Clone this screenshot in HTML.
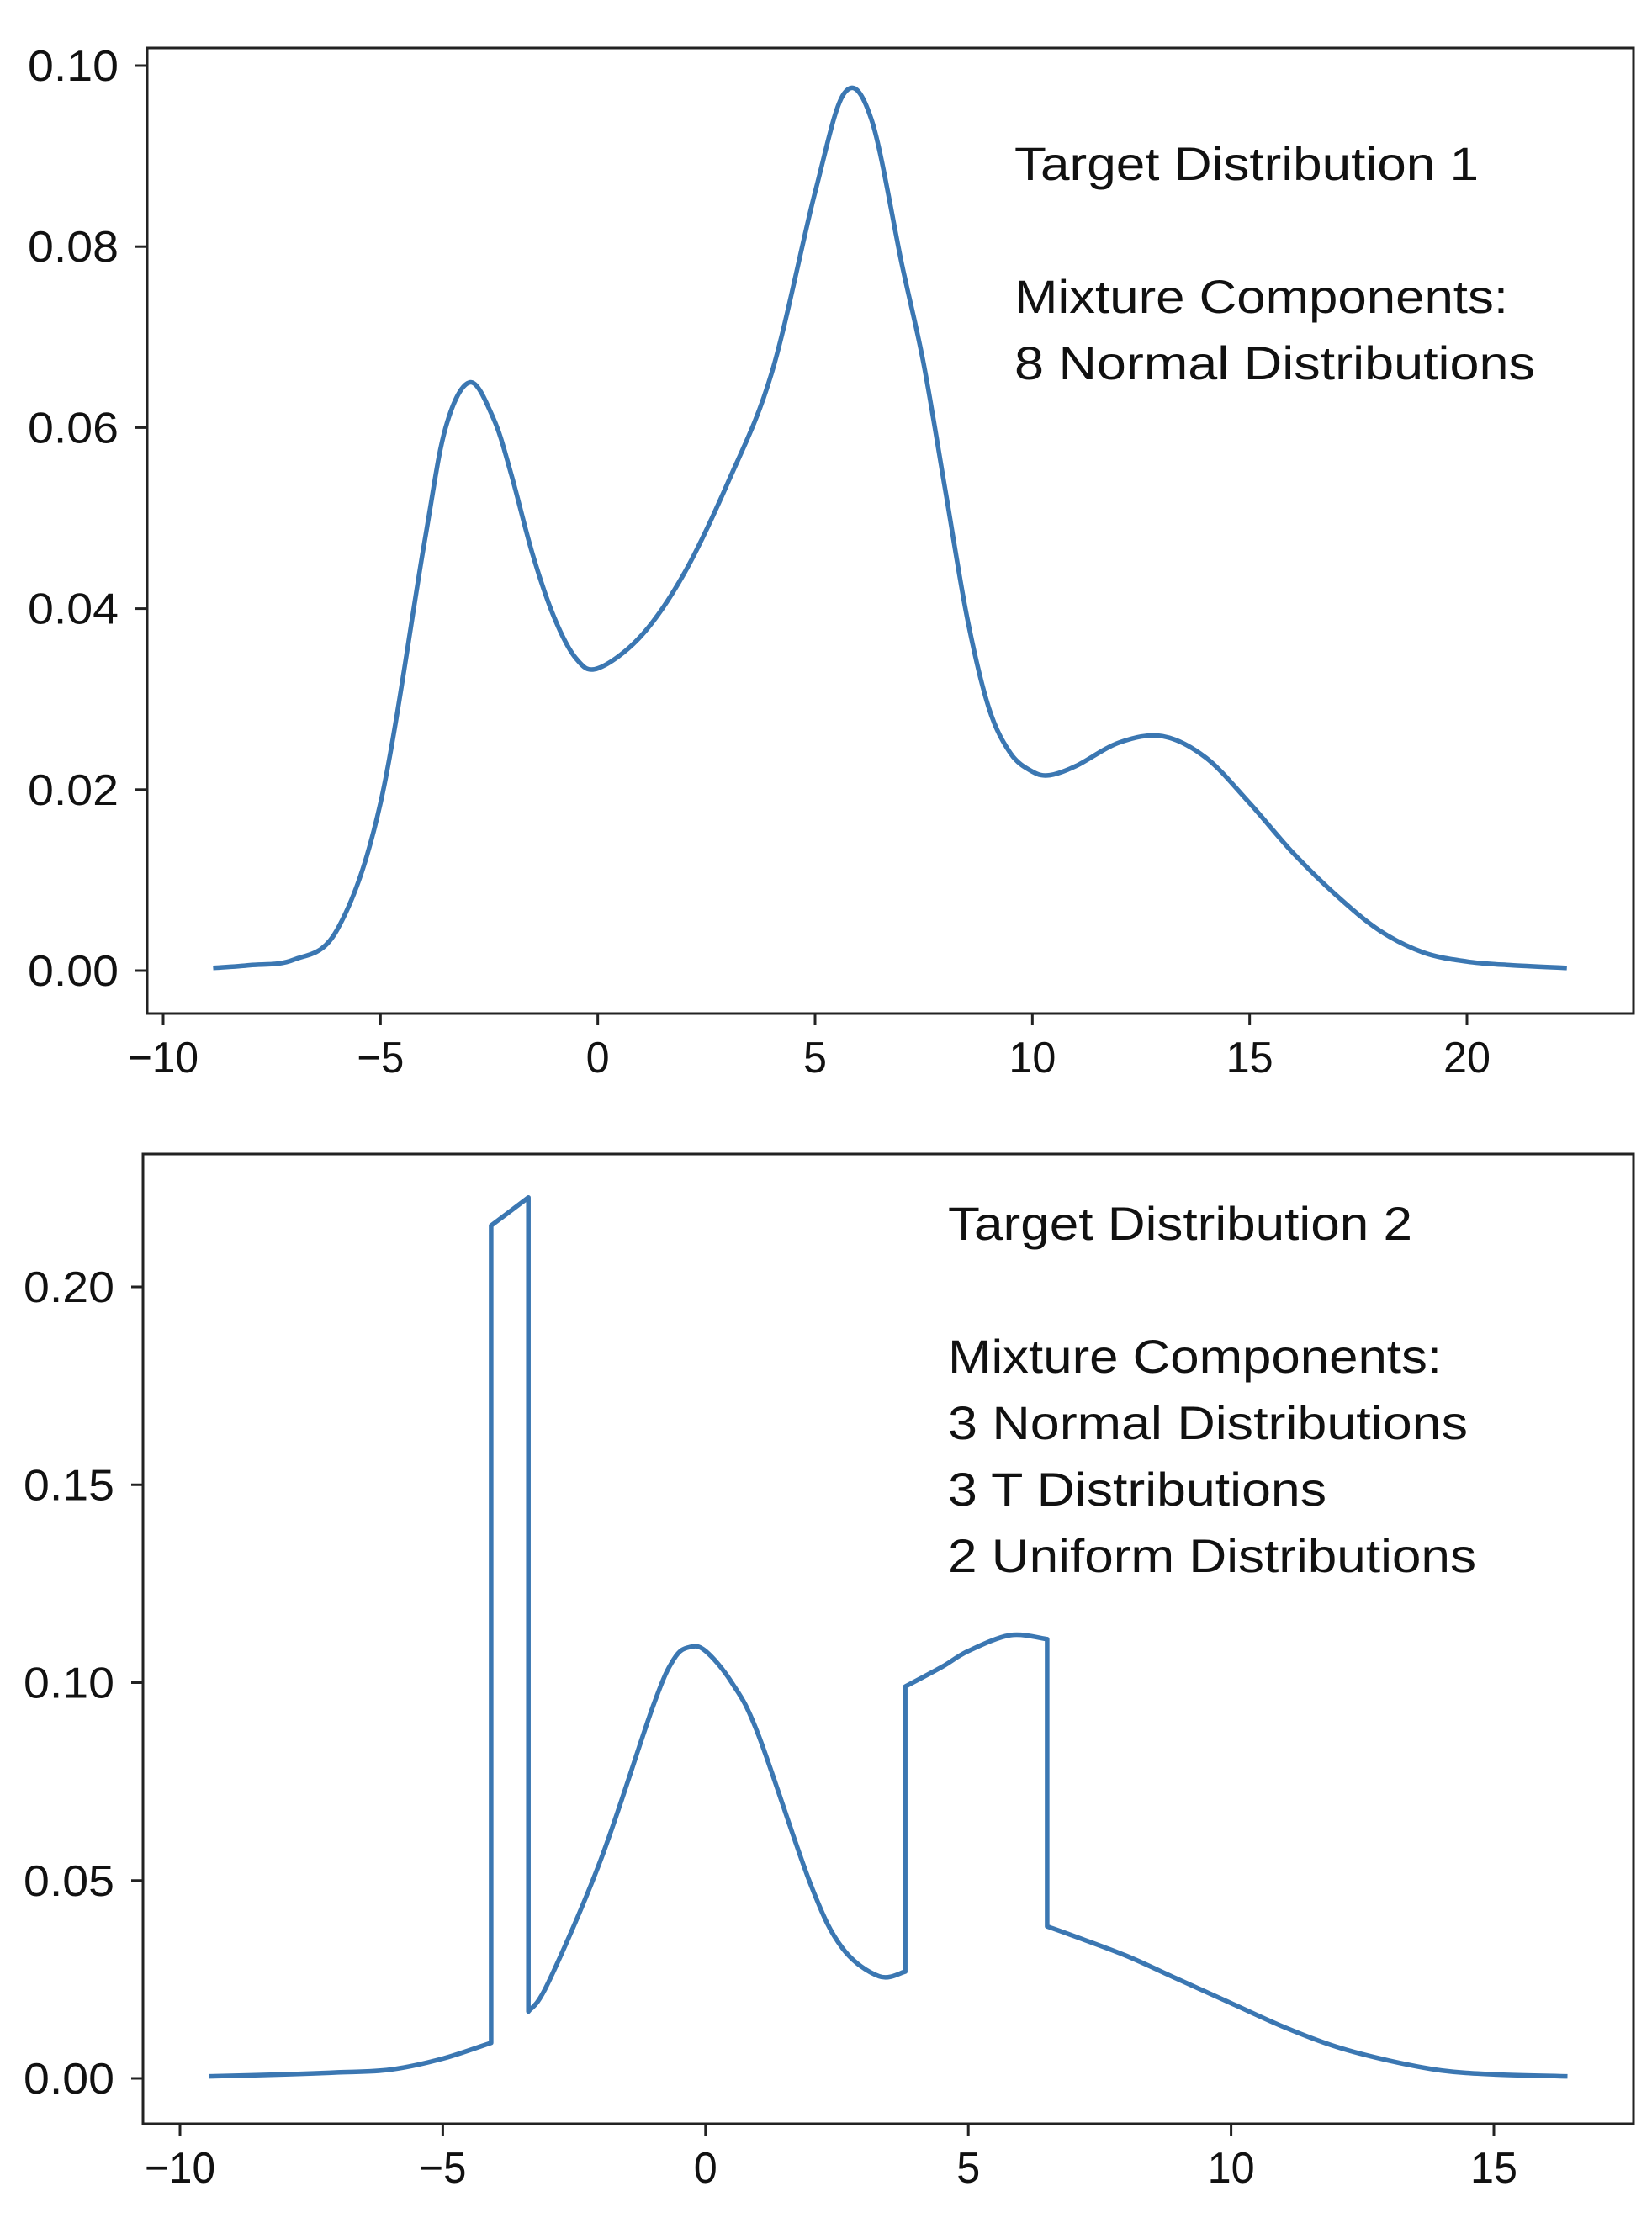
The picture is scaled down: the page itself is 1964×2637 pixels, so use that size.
<!DOCTYPE html>
<html><head><meta charset="utf-8"><style>
html,body{margin:0;padding:0;background:#fff}
svg{display:block}
text{font-family:"Liberation Sans",sans-serif;fill:#111}
</style></head><body>
<svg id="c" width="1964" height="2637" viewBox="0 0 1964 2637"></svg>
<script>
// Chart 1 data
const xs1 = [-8.85,-8,-7,-6,-5,-4,-3.5,-2.94,-2.4,-2,-1.5,-1,-0.5,0,1,2,3,4,5,5.68,6.3,7,7.5,8,8.5,9,9.5,10,10.4,11,12,13,14,15,16,17,18,19,20,21,22.3];
const ys1 = [0.0003,0.0006,0.0012,0.0045,0.0185,0.047,0.06,0.065,0.061,0.055,0.046,0.039,0.0345,0.0334,0.037,0.044,0.054,0.066,0.086,0.097,0.094,0.078,0.067,0.053,0.039,0.029,0.024,0.022,0.0216,0.0226,0.0252,0.0259,0.0235,0.0185,0.013,0.0083,0.0044,0.002,0.001,0.0006,0.0003];
const xTicks1 = [-10,-5,0,5,10,15,20];
const yTicks1 = [0,0.02,0.04,0.06,0.08,0.10];
const yLabels1 = ["0.00","0.02","0.04","0.06","0.08","0.10"];
const notes1 = ["Target Distribution 1","","Mixture Components:","8  Normal Distributions"];
// Chart 2 data
const xs2 = [-9.45,-8,-7,-6,-5,-4.08,-4.08,-3.37,-3.37,-3,-2,-1,-0.6,-0.3,0,0.5,1,2,2.6,3.3,3.8,3.8,4.5,5,5.8,6.5,6.5,7,8,9,10,11,12,13,14,15,16.4];
const ys2 = [0.0005,0.001,0.0015,0.0022,0.005,0.009,0.2155,0.2226,0.0169,0.024,0.055,0.094,0.106,0.109,0.108,0.1,0.087,0.049,0.033,0.0258,0.027,0.099,0.104,0.108,0.112,0.111,0.0384,0.036,0.031,0.025,0.019,0.013,0.008,0.0045,0.002,0.001,0.0005];
const xTicks2 = [-10,-5,0,5,10,15];
const yTicks2 = [0,0.05,0.10,0.15,0.20];
const yLabels2 = ["0.00","0.05","0.10","0.15","0.20"];
const notes2 = ["Target Distribution 2","","Mixture Components:","3  Normal Distributions","3  T Distributions","2 Uniform Distributions"];

const NS="http://www.w3.org/2000/svg";
const svg=document.getElementById('c');
function mk(tag,attrs,parent){const e=document.createElementNS(NS,tag);for(const k in attrs)e.setAttribute(k,attrs[k]);(parent||svg).appendChild(e);return e;}

function chart(cfg){
  const g=mk('g',{});
  
  
  const sx=v=>cfg.x0px+(v-cfg.x0v)*(cfg.x1px-cfg.x0px)/(cfg.x1v-cfg.x0v);
  const sy=v=>cfg.y0px+(v-cfg.y0v)*(cfg.y1px-cfg.y0px)/(cfg.y1v-cfg.y0v);
  const f=mk('rect',{x:cfg.L,y:cfg.T,width:cfg.R-cfg.L,height:cfg.B-cfg.T,fill:'none',stroke:'#222','stroke-width':3},g);
  
  
  cfg.xTicks.forEach(t=>{
    const x=sx(t);
    const tk=mk('line',{x1:x,x2:x,y1:cfg.B,y2:cfg.B+14,stroke:'#222','stroke-width':3},g);
    
    
    const s=t<0?'\u2212'+(-t):String(t);
    const tx=mk('text',{x:x,y:cfg.B+70,'font-size':52,'text-anchor':'middle',textLength:s.length*28,lengthAdjust:'spacingAndGlyphs'},g);
    tx.textContent=s;
    
    
  });
  cfg.yTicks.forEach((t,i)=>{
    const y=sy(t);
    const tk=mk('line',{x1:cfg.L-14,x2:cfg.L,y1:y,y2:y,stroke:'#222','stroke-width':3},g);
    
    
    const tx=mk('text',{x:cfg.L-34,y:y+18,'font-size':52,'text-anchor':'end',textLength:108,lengthAdjust:'spacingAndGlyphs'},g);
    tx.textContent=cfg.yLabels[i];
    
    
  });
  const pts=cfg.xs.map((x,i)=>[sx(x),sy(cfg.ys[i])]);
  const pieces=[];let cur=[pts[0]];
  for(let i=1;i<pts.length;i++){
    if(cfg.xs[i]===cfg.xs[i-1]){pieces.push(cur);cur=[pts[i]];}
    else cur.push(pts[i]);
  }
  pieces.push(cur);
  let d='';
  pieces.forEach((p,pi)=>{
    d+=(pi===0?'M':'L')+p[0][0].toFixed(1)+','+p[0][1].toFixed(1);
    for(let i=0;i<p.length-1;i++){
      const p0=p[i-1]||p[i],p1=p[i],p2=p[i+1],p3=p[i+2]||p[i+1];
      const c1=[p1[0]+(p2[0]-p0[0])/6,p1[1]+(p2[1]-p0[1])/6];
      const c2=[p2[0]-(p3[0]-p1[0])/6,p2[1]-(p3[1]-p1[1])/6];
      d+='C'+c1.map(v=>v.toFixed(1)).join(',')+' '+c2.map(v=>v.toFixed(1)).join(',')+' '+p2.map(v=>v.toFixed(1)).join(',');
    }
  });
  const ln=mk('path',{d:d,fill:'none',stroke:'#3b77b2','stroke-width':5.5,'stroke-linejoin':'round'},g);
  
  
  cfg.notes.forEach((s,i)=>{
    if(!s)return;
    const tx=mk('text',{x:cfg.nx,y:cfg.ny+i*79,'font-size':56,textLength:cfg.nw[i],lengthAdjust:'spacingAndGlyphs'},g);
    tx.textContent=s;
    
    
  });
}
chart({name:'target-distribution-1-chart',L:175,R:1942,T:57,B:1205,
  x0v:-10,x1v:20,x0px:194,x1px:1744,y0v:0,y1v:0.1,y0px:1154,y1px:78,
  xs:xs1,ys:ys1,xTicks:xTicks1,yTicks:yTicks1,yLabels:yLabels1,
  notes:notes1,nx:1206,ny:214,nw:[552,0,587,619]});
chart({name:'target-distribution-2-chart',L:170,R:1942,T:1372,B:2525,
  x0v:-10,x1v:15,x0px:214,x1px:1776,y0v:0,y1v:0.2,y0px:2471,y1px:1530,
  xs:xs2,ys:ys2,xTicks:xTicks2,yTicks:yTicks2,yLabels:yLabels2,
  notes:notes2,nx:1127,ny:1474,nw:[552,0,587,618,450,628]});
</script>
</body></html>
